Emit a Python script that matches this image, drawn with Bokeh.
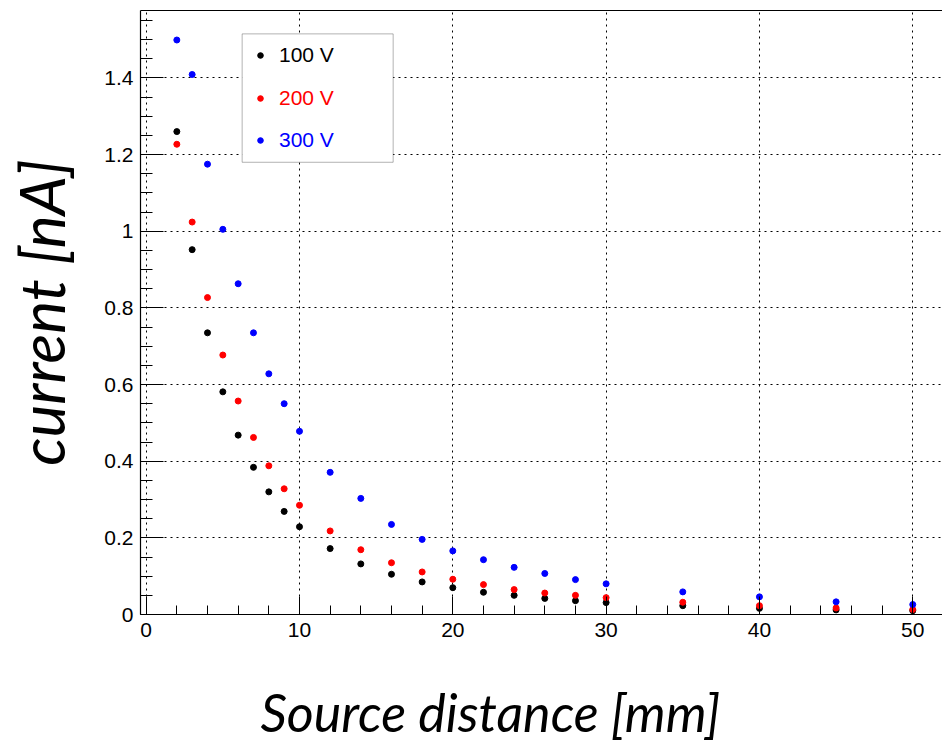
from bokeh.plotting import figure
from bokeh.models import (Range1d, SingleIntervalTicker, LinearAxis, Legend, LegendItem,
                          BoxAnnotation, FixedTicker, Title)
from bokeh.embed import file_html
from bokeh.resources import INLINE

# ---- data ----
distance_mm = [2, 3, 4, 5, 6, 7, 8, 9, 10, 12, 14, 16, 18, 20, 22, 24, 26, 28, 30, 35, 40, 45, 50]
current_100V = [1.260, 0.952, 0.735, 0.581, 0.468, 0.384, 0.320, 0.269, 0.229, 0.172, 0.132, 0.105,
                0.085, 0.070, 0.058, 0.050, 0.042, 0.036, 0.031, 0.023, 0.016, 0.012, 0.010]
current_200V = [1.227, 1.024, 0.827, 0.677, 0.557, 0.462, 0.388, 0.328, 0.285, 0.218, 0.169, 0.135,
                0.111, 0.092, 0.078, 0.065, 0.056, 0.050, 0.044, 0.032, 0.023, 0.017, 0.013]
current_300V = [1.499, 1.409, 1.175, 1.005, 0.863, 0.735, 0.628, 0.550, 0.478, 0.371, 0.303, 0.235,
                0.196, 0.166, 0.143, 0.123, 0.107, 0.091, 0.080, 0.059, 0.046, 0.033, 0.026]
series_labels = ["100 V", "200 V", "300 V"]
series_colors = ["#000000", "#ff0000", "#0000ff"]
x_title = "Source distance [mm]"
y_title = "current [nA]"

TICK_FONT = "Liberation Sans"
TITLE_FONT = "Lato"

p = figure(width=942, height=745, output_backend="svg", toolbar_location=None,
           x_range=Range1d(-0.37, 51.94), y_range=Range1d(0, 1.576),
           min_border_left=140, min_border_right=0, min_border_top=10, min_border_bottom=131,
           background_fill_color="white", border_fill_color="white")
p.outline_line_color = None

xt = SingleIntervalTicker(interval=10, num_minor_ticks=5)
yt = SingleIntervalTicker(interval=0.2, num_minor_ticks=4)
p.xaxis.ticker = xt
p.yaxis.ticker = yt
p.xgrid.ticker = xt
p.ygrid.ticker = yt

for g in (p.xgrid, p.ygrid):
    g.grid_line_color = "black"
    g.grid_line_dash = "2 4"
    g.grid_line_width = 1
    g.grid_line_alpha = 1

for ax in (p.xaxis, p.yaxis):
    ax.axis_line_color = "black"
    ax.axis_line_width = 1.2
    ax.major_tick_out = 0
    ax.minor_tick_out = 0
    ax.major_tick_line_color = "black"
    ax.minor_tick_line_color = "black"
    ax.major_label_text_font = TICK_FONT
    ax.major_label_text_font_size = "21px"
    ax.major_label_text_color = "black"

p.xaxis.major_tick_in = 18
p.xaxis.minor_tick_in = 9
p.xaxis.major_label_standoff = 8
p.yaxis.major_tick_in = 23
p.yaxis.minor_tick_in = 12
p.yaxis.major_label_standoff = 7
p.yaxis.major_label_overrides = {0: "0", 1: "1"}

p.yaxis.axis_label = y_title
p.yaxis.axis_label_text_font = TITLE_FONT
p.yaxis.axis_label_text_font_style = "italic"
p.yaxis.axis_label_text_font_size = "62px"
p.yaxis.axis_label_text_color = "black"
p.yaxis.axis_label_standoff = 23

# top frame line
top = LinearAxis(ticker=FixedTicker(ticks=[]), axis_line_color="black", axis_line_width=1.2,
                 major_tick_in=0, major_tick_out=0, minor_tick_in=0, minor_tick_out=0,
                 major_label_text_font_size="0px")
p.add_layout(top, "above")

# invisible spacer below the tick labels (one hidden tick gives it height), then the x title
spacer = LinearAxis(ticker=FixedTicker(ticks=[25]), axis_line_color=None,
                    major_tick_line_color=None, minor_tick_line_color=None,
                    major_tick_in=0, major_tick_out=41, minor_tick_in=0, minor_tick_out=0,
                    major_label_standoff=0, major_label_overrides={25: ""})
p.add_layout(spacer, "below")

xl = Title(text=x_title, align="left", offset=120, standoff=0, vertical_align="top",
           text_font=TITLE_FONT, text_font_style="italic", text_font_size="52px",
           text_color="black")
p.add_layout(xl, "below")

renderers = []
for ys, c in zip([current_100V, current_200V, current_300V], series_colors):
    r = p.scatter(distance_mm, ys, marker="circle", size=6, fill_color=c, line_color=c)
    renderers.append(r)

# legend box (white background, black border)
box = BoxAnnotation(left=6.26, right=16.11, bottom=1.180, top=1.515,
                    fill_color="white", fill_alpha=1.0, line_color="black", line_width=1)
p.add_layout(box)

leg_y = [547, 504, 462]
for lab, r, c, vy in zip(series_labels, renderers, series_colors, leg_y):
    leg = Legend(items=[LegendItem(label=lab, renderers=[r])], location=(113, vy),
                 padding=0, margin=0, spacing=0, glyph_width=14, glyph_height=24,
                 label_height=24, label_standoff=12, border_line_color=None,
                 background_fill_alpha=0, label_text_font=TICK_FONT,
                 label_text_font_size="21px", label_text_color=c)
    p.add_layout(leg)

open("out.html", "w").write(file_html(p, INLINE))
